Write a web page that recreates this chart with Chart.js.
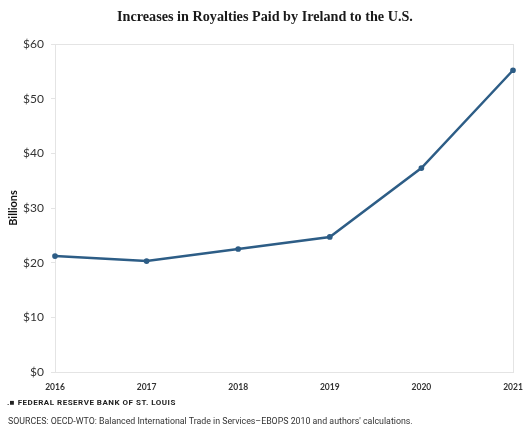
<!DOCTYPE html>
<html>
<head>
<meta charset="utf-8">
<script src="https://cdn.jsdelivr.net/npm/chart.js@4/dist/chart.umd.min.js"></script>
<style>
  body { margin: 0; background: #fff; }
  .wrap { position: relative; width: 530px; height: 443px; }
  canvas { position: absolute; left: 0; top: 0; }
  .title { position: absolute; left: 0; width: 530px; top: 8px; text-align: center;
    font: bold 14.2px "Liberation Serif", "DejaVu Serif", serif; color: #1a1a1a; }
  .brand { position: absolute; left: 7px; top: 398px; font: bold 8px Roboto, sans-serif;
    letter-spacing: 0.5px; color: #222; }
  .src { position: absolute; left: 8px; top: 416px; font: 8.8px Roboto, sans-serif; color: #333; }
</style>
</head>
<body>
<div class="wrap">
  <canvas id="chart" width="530" height="443"></canvas>
  <div class="title">Increases in Royalties Paid by Ireland to the U.S.</div>
  <div class="brand">.&#9632; FEDERAL RESERVE BANK OF ST. LOUIS</div>
  <div class="src">SOURCES: OECD-WTO: Balanced International Trade in Services&ndash;EBOPS 2010 and authors' calculations.</div>
</div>
<script>
const years = ['2016', '2017', '2018', '2019', '2020', '2021'];
const royalties = [21.2, 20.3, 22.5, 24.7, 37.3, 55.2];
const yTicks = [0, 10, 20, 30, 40, 50, 60];

// light frame round the plot area
const frame = {
  id: 'frame',
  beforeDatasetsDraw(chart) {
    const { ctx, chartArea: a } = chart;
    ctx.save();
    ctx.strokeStyle = '#e4e4e4';
    ctx.lineWidth = 1;
    ctx.strokeRect(a.left + 0.5, a.top + 0.5, a.right - a.left, a.bottom - a.top);
    ctx.restore();
  }
};

new Chart(document.getElementById('chart'), {
  type: 'line',
  data: {
    labels: years,
    datasets: [{
      data: royalties,
      borderColor: '#2d5d86',
      backgroundColor: '#2d5d86',
      borderWidth: 2.5,
      pointRadius: 1.6,
      pointHoverRadius: 1.6,
      tension: 0
    }]
  },
  options: {
    responsive: false,
    animation: false,
    layout: { padding: { top: 44, right: 17, bottom: 49, left: 0 } },
    plugins: { legend: { display: false }, tooltip: { enabled: false } },
    scales: {
      x: {
        offset: false,
        grid: { display: false },
        border: { display: false },
        ticks: { color: '#333', font: { family: 'Lato', size: 8.5, weight: 'bold' }, padding: 2, maxRotation: 0 },
        afterFit(s) { s.height = 22; }
      },
      y: {
        min: 0,
        max: 60,
        afterBuildTicks(s) { s.ticks = yTicks.map(v => ({ value: v })); },
        grid: { drawOnChartArea: false, tickLength: 4, color: '#e4e4e4' },
        border: { display: false },
        ticks: { color: '#333', font: { family: 'Lato', size: 12 }, padding: 7, callback: v => '$' + v },
        title: { display: true, text: 'Billions', color: '#111', font: { family: 'Lato', size: 11, weight: 'bold' }, padding: { top: 7, bottom: 0 } },
        afterFit(s) { s.width = 55; }
      }
    }
  },
  plugins: [frame]
});
</script>
</body>
</html>
